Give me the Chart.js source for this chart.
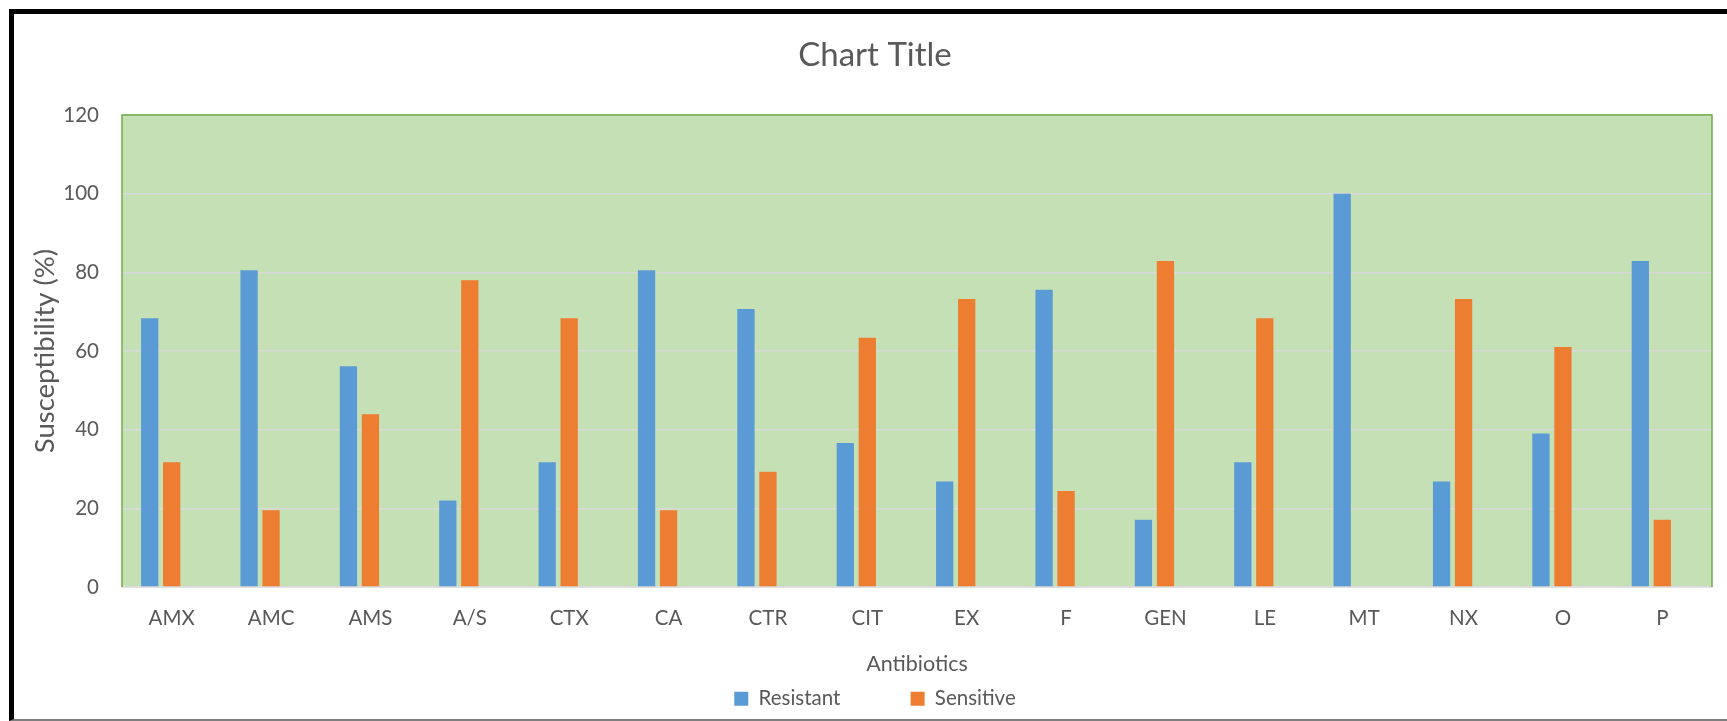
<!DOCTYPE html>
<html>
<head>
<meta charset="utf-8">
<script src="https://cdn.jsdelivr.net/npm/chart.js@4/dist/chart.umd.min.js"></script>
<style>
  html, body { margin: 0; padding: 0; background: #ffffff; overflow: hidden; width: 1727px; height: 721px; }
  #frame {
    position: absolute; left: 9px; top: 9px;
    width: 1722px; height: 705px;
    border-left: 5px solid #000; border-top: 5px solid #000; border-bottom: 2px solid #7f7f7f;
  }
  canvas { display: block; }
</style>
</head>
<body>
<div id="frame"><canvas id="c" width="1722" height="705"></canvas></div>
<script>
// ---- data ----
const categories = ['AMX', 'AMC', 'AMS', 'A/S', 'CTX', 'CA', 'CTR', 'CIT', 'EX', 'F', 'GEN', 'LE', 'MT', 'NX', 'O', 'P'];
const resistant = [68.3, 80.5, 56.1, 22.0, 31.7, 80.5, 70.7, 36.6, 26.8, 75.6, 17.1, 31.7, 100, 26.8, 39.0, 82.9];
const sensitive = [31.7, 19.5, 43.9, 78.0, 68.3, 19.5, 29.3, 63.4, 73.2, 24.4, 82.9, 68.3, 0, 73.2, 61.0, 17.1];
const blankSeries = [null, null, null, null, null, null, null, null, null, null, null, null, null, null, null, null];
const seriesNames = ['Resistant', 'Sensitive', ''];
const yMin = 0;
const yMax = 120;
const yStep = 20;

Chart.defaults.font.family = 'Lato';
Chart.defaults.color = '#595959';

const plotArea = {
  id: 'plotArea',
  beforeDraw(chart) {
    const { ctx, chartArea: a } = chart;
    ctx.save();
    ctx.fillStyle = '#C5E0B4';
    ctx.fillRect(a.left, a.top, a.right - a.left, a.bottom - a.top);
    ctx.restore();
  },
  afterDatasetsDraw(chart) {
    const { ctx, chartArea: a } = chart;
    ctx.save();
    ctx.strokeStyle = '#70AD47';
    ctx.lineWidth = 1.5;
    ctx.beginPath();
    ctx.moveTo(a.left, a.bottom);
    ctx.lineTo(a.left, a.top);
    ctx.lineTo(a.right, a.top);
    ctx.lineTo(a.right, a.bottom);
    ctx.stroke();
    ctx.restore();
  }
};

const legendOrder = { 0: 0, 2: 1, 1: 2 };

new Chart(document.getElementById('c'), {
  type: 'bar',
  data: {
    labels: categories,
    datasets: [
      { label: seriesNames[0], data: resistant, backgroundColor: '#5B9BD5', borderWidth: 0 },
      { label: seriesNames[1], data: sensitive, backgroundColor: '#ED7D31', borderWidth: 0 },
      { label: seriesNames[2], data: blankSeries, backgroundColor: 'rgba(0,0,0,0)', borderColor: 'rgba(0,0,0,0)', borderWidth: 0 }
    ]
  },
  options: {
    responsive: false,
    animation: false,
    devicePixelRatio: 1,
    categoryPercentage: 0.664,
    barPercentage: 0.786,
    layout: { padding: { left: 24, right: 24, top: 0, bottom: 0 } },
    plugins: {
      title: {
        display: true,
        text: 'Chart Title',
        color: '#595959',
        font: { size: 33, weight: 'normal' },
        padding: { top: 21.2, bottom: 40.2 }
      },
      legend: {
        position: 'bottom',
        labels: {
          boxWidth: 14,
          boxHeight: 14,
          padding: 23,
          color: '#595959',
          font: { size: 20.5 },
          sort: (a, b) => legendOrder[a.datasetIndex] - legendOrder[b.datasetIndex]
        }
      },
      tooltip: { enabled: false }
    },
    scales: {
      x: {
        grid: { display: false, drawTicks: false },
        border: { display: true, color: '#D9D9D9', width: 1.5 },
        ticks: { color: '#595959', font: { size: 20.5 }, padding: 18.7, maxRotation: 0, autoSkip: false },
        title: {
          display: true,
          text: 'Antibiotics',
          color: '#595959',
          font: { size: 21.5 },
          padding: { top: 0, bottom: -11.4 }
        },
        afterFit(scale) { scale.height = 78.5; }
      },
      y: {
        min: yMin,
        max: yMax,
        ticks: { stepSize: yStep, color: '#595959', font: { size: 20.5 }, padding: 23 },
        grid: { color: '#D9D9D9', lineWidth: 1.5, drawTicks: false },
        border: { display: false },
        title: {
          display: true,
          text: 'Susceptibility (%)',
          color: '#595959',
          font: { size: 27.5 },
          padding: { top: -9.5, bottom: 0 }
        },
        afterFit(scale) { scale.width = 84; }
      }
    }
  },
  plugins: [plotArea]
});
</script>
</body>
</html>
